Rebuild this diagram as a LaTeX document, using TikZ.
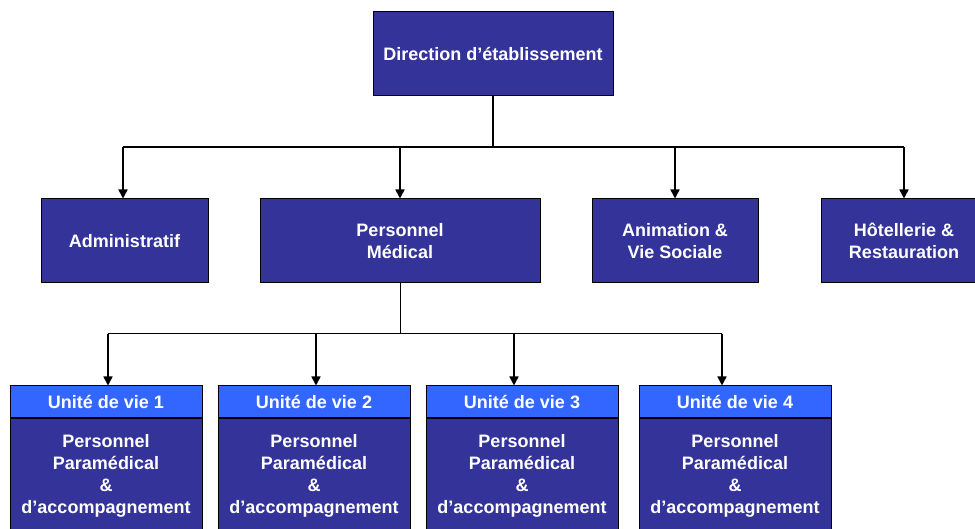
\documentclass[tikz,border=0pt]{standalone}
\usepackage{fontspec}
\setmainfont{Liberation Sans}
\usetikzlibrary{arrows.meta}

\definecolor{boxblue}{HTML}{333399}
\definecolor{headblue}{HTML}{3366FF}

\begin{document}
\begin{tikzpicture}[
    x=1pt, y=-1pt,
    every node/.style={font=\bfseries\fontsize{18}{22}\selectfont, text=white, align=center},
    orgbox/.style={draw=black, fill=boxblue, line width=1pt, minimum height=84pt, inner sep=0pt},
    headbox/.style={draw=black, fill=headblue, line width=1pt, minimum width=192pt, minimum height=31pt, inner sep=0pt, text height=14pt, text depth=0pt},
    bodybox/.style={draw=black, fill=boxblue, line width=1pt, minimum width=192pt, minimum height=115pt, inner sep=0pt},
    link/.style={draw=black, line width=1.6pt},
    thinlink/.style={draw=black, line width=1pt},
    arrow/.style={-{Triangle[length=9pt, width=9pt]}}
    ]

    \useasboundingbox (0,0) rectangle (975,529);

    \node[orgbox, minimum width=240pt] (dir) at (493, 54) {Direction d'établissement};

    \node[orgbox, minimum width=167pt] (adm) at (124.5, 241) {Administratif};
    \node[orgbox, minimum width=280pt] (med) at (400, 241) {Personnel\\Médical};
    \node[orgbox, minimum width=166pt] (ani) at (675, 241) {Animation \&\\Vie Sociale};
    \node[orgbox, minimum width=166pt] (hot) at (904, 241) {Hôtellerie \&\\Restauration};

    \coordinate (j0) at (493, 147);
    \coordinate (b1) at (123, 147);
    \coordinate (b2) at (400, 147);
    \coordinate (b3) at (675, 147);
    \coordinate (b4) at (904, 147);

    \path[link] (dir.south) -- (j0);
    \path[link] (b1) -- (b4);
    \path[link, arrow] (b1) -- (b1 |- adm.north);
    \path[link, arrow] (b2) -- (b2 |- med.north);
    \path[link, arrow] (b3) -- (b3 |- ani.north);
    \path[link, arrow] (b4) -- (b4 |- hot.north);

    % unites de vie
    \node[headbox] (h1) at (106, 401.5) {Unité de vie 1};
    \node[headbox] (h2) at (314, 401.5) {Unité de vie 2};
    \node[headbox] (h3) at (522, 401.5) {Unité de vie 3};
    \node[headbox] (h4) at (735, 401.5) {Unité de vie 4};

    \node[bodybox, anchor=north] (u1) at (h1.south) {Personnel\\Paramédical\\\&\\d'accompagnement};
    \node[bodybox, anchor=north] (u2) at (h2.south) {Personnel\\Paramédical\\\&\\d'accompagnement};
    \node[bodybox, anchor=north] (u3) at (h3.south) {Personnel\\Paramédical\\\&\\d'accompagnement};
    \node[bodybox, anchor=north] (u4) at (h4.south) {Personnel\\Paramédical\\\&\\d'accompagnement};

    \coordinate (j1) at (400, 334);
    \coordinate (c1) at (108, 334);
    \coordinate (c2) at (316, 334);
    \coordinate (c3) at (514, 334);
    \coordinate (c4) at (722, 334);

    \path[thinlink] (med.south) -- (j1);
    \path[thinlink] (c1) -- (c4);
    \path[link, arrow] (c1) -- (c1 |- h1.north);
    \path[link, arrow] (c2) -- (c2 |- h2.north);
    \path[link, arrow] (c3) -- (c3 |- h3.north);
    \path[link, arrow] (c4) -- (c4 |- h4.north);

\end{tikzpicture}
\end{document}
